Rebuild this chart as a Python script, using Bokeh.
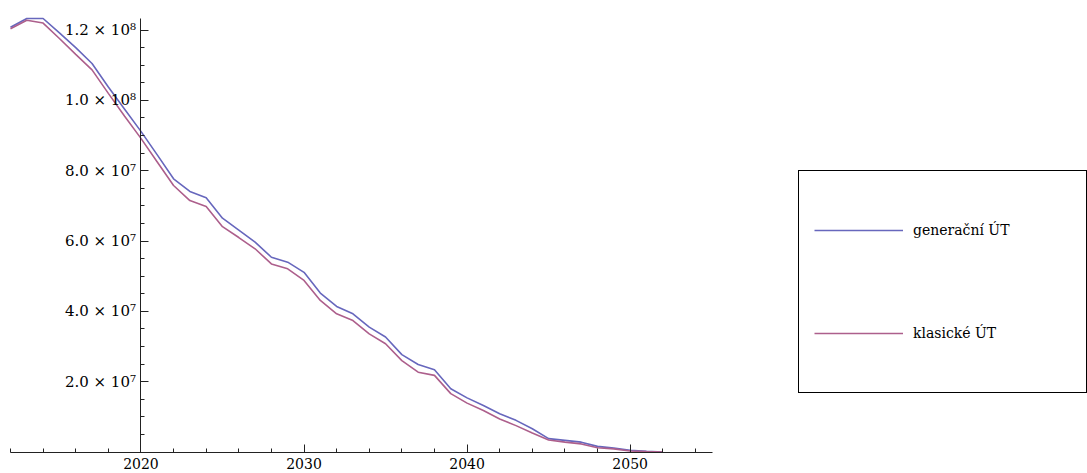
from bokeh.plotting import figure
from bokeh.models import LinearAxis, FixedTicker, Legend, LegendItem, Range1d
from bokeh.embed import file_html
from bokeh.resources import INLINE

years = list(range(2012, 2053))
generacni = [12.08, 12.33, 12.33, 11.92, 11.50, 11.05, 10.38, 9.75, 9.12, 8.45,
             7.77, 7.41, 7.23, 6.65, 6.31, 5.97, 5.54, 5.40, 5.11, 4.52,
             4.14, 3.93, 3.55, 3.27, 2.77, 2.49, 2.34, 1.80, 1.54, 1.32,
             1.09, 0.90, 0.66, 0.38, 0.33, 0.28, 0.16, 0.11, 0.05, 0.02, 0.00]
klasicke = [12.04, 12.28, 12.20, 11.76, 11.31, 10.87, 10.20, 9.55, 8.92, 8.25,
            7.58, 7.15, 6.98, 6.41, 6.10, 5.78, 5.35, 5.21, 4.88, 4.31,
            3.93, 3.74, 3.36, 3.08, 2.60, 2.27, 2.18, 1.66, 1.39, 1.18,
            0.94, 0.75, 0.54, 0.34, 0.28, 0.23, 0.12, 0.09, 0.03, 0.01, 0.00]
scale = 1e7
series_names = ["generační ÚT", "klasické ÚT"]

x_major = [2020, 2030, 2040, 2050]
x_minor = list(range(2012, 2056, 2))
y_major = [20000000, 40000000, 60000000, 80000000, 100000000, 120000000]
y_labels = ["2.0 × 10⁷", "4.0 × 10⁷", "6.0 × 10⁷", "8.0 × 10⁷", "1.0 × 10⁸", "1.2 × 10⁸"]
y_minor = list(range(5000000, 125000000, 5000000))

FONT = "DejaVu Serif"

# plot area of the reference: x from 2012 to ~2055, y from 0 to ~1.233e8
X0, X1 = 2012.0, 2055.05
Y0, Y1 = 0.0, 12.33e7
W, H = 1087, 473
PX_L, PX_R, PX_T, PX_B = 10.0, 712.0, 18.0, 451.5
sx = (PX_R - PX_L) / (X1 - X0)
sy = (PX_B - PX_T) / (Y1 - Y0)

p = figure(width=W, height=H, output_backend="svg", toolbar_location=None,
           x_axis_location=None, y_axis_location=None,
           x_range=Range1d(X0 - PX_L / sx, X0 + (W - PX_L) / sx),
           y_range=Range1d(Y0 - (H - PX_B) / sy, Y0 + PX_B / sy),
           min_border=0)
p.grid.visible = False
p.outline_line_color = None
p.background_fill_color = "white"
p.border_fill_color = "white"

yv_g = [v * scale for v in generacni]
yv_k = [v * scale for v in klasicke]
r1 = p.line(years, yv_g, line_color="#6767bd", line_width=1.6)
r2 = p.line(years, yv_k, line_color="#ad5f8c", line_width=1.6)

xaxis = LinearAxis(fixed_location=0, bounds=(X0, X1),
                   ticker=FixedTicker(ticks=x_major, minor_ticks=x_minor),
                   major_label_text_font=FONT, major_label_text_font_size="14px",
                   major_label_text_color="black")
xaxis.major_tick_in = 8
xaxis.major_tick_out = 0
xaxis.minor_tick_in = 4
xaxis.minor_tick_out = 0
xaxis.axis_line_color = "#222222"
xaxis.major_tick_line_color = "#222222"
xaxis.minor_tick_line_color = "#222222"
xaxis.major_label_standoff = 6
p.add_layout(xaxis, "below")

yaxis = LinearAxis(fixed_location=2020, bounds=(Y0, Y1),
                   ticker=FixedTicker(ticks=y_major, minor_ticks=y_minor),
                   major_label_text_font=FONT, major_label_text_font_size="15px",
                   major_label_text_color="black")
yaxis.major_tick_in = 8
yaxis.major_tick_out = 0
yaxis.minor_tick_in = 4
yaxis.minor_tick_out = 0
yaxis.axis_line_color = "#222222"
yaxis.major_tick_line_color = "#222222"
yaxis.minor_tick_line_color = "#222222"
yaxis.major_label_standoff = 5
yaxis.major_label_overrides = {t: l for t, l in zip(y_major, y_labels)}
p.add_layout(yaxis, "left")

legend = Legend(items=[LegendItem(label=series_names[0], renderers=[r1]),
                       LegendItem(label=series_names[1], renderers=[r2])],
                location=(798, 80),
                label_text_font=FONT,
                label_text_font_size="14px",
                label_text_color="black",
                border_line_color="black",
                border_line_alpha=1.0,
                border_line_width=1.5)
legend.glyph_width = 89
legend.glyph_height = 88
legend.spacing = 15
legend.padding = 15
legend.margin = 0
legend.label_standoff = 10
legend.background_fill_color = "white"
legend.background_fill_alpha = 1
legend.label_width = 158
p.add_layout(legend, "center")

open("out.html", "w").write(file_html(p, INLINE))
